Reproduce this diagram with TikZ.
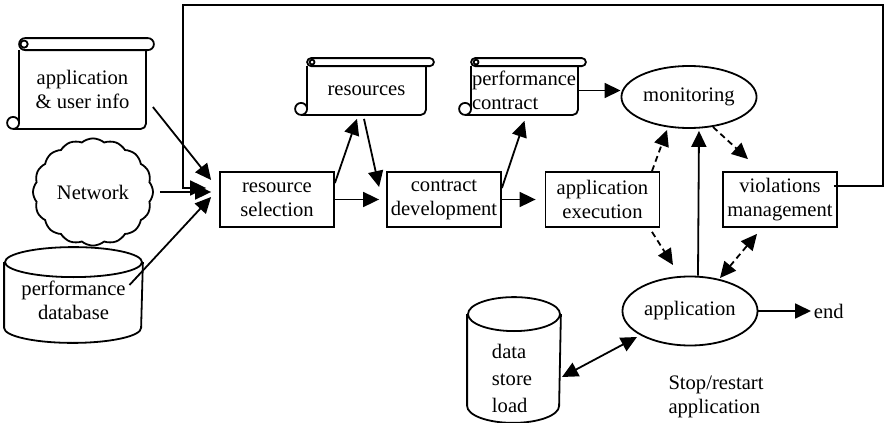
\documentclass[tikz,border=0pt]{standalone}
\usepackage{fontspec}
\setmainfont{Liberation Serif}
\usetikzlibrary{arrows.meta,shapes.geometric,shapes.symbols}

% scroll outline round a node: name, roll height, half roll height
\newcommand{\scrollframe}[3]{%
  \draw (#1.north west) -- ([yshift=3pt]#1.south west);
  \draw ([xshift=-3pt,yshift=3pt]#1.south west) circle (3pt);
  \draw[rounded corners=2.5pt] ([xshift=-3pt]#1.south west) -- (#1.south east) -- (#1.north east);
  \draw[rounded corners=#3] ([yshift=#2]#1.north west) rectangle ([xshift=4pt]#1.north east);
  \draw ([xshift=2.5pt,yshift=#3]#1.north west) circle (#3*0.6);
}
% drum outline round a node: name, half width, end radius
\newcommand{\drumframe}[3]{%
  \draw (#1.north) ellipse [x radius=#2, y radius=#3];
  \draw (#1.north west) -- (#1.south west)
    arc [start angle=180, end angle=360, x radius=#2, y radius=#3] -- (#1.north east);
}

\begin{document}
\begin{tikzpicture}[x=0.5pt,y=-0.5pt,line width=0.9pt]
\tikzstyle{every node} = [font=\fontsize{10.3}{12}\selectfont, align=center]
\tikzstyle{box} = [rectangle, draw, minimum width=57pt, minimum height=27.5pt, inner sep=1pt]
\tikzstyle{oval} = [ellipse, draw, inner sep=1pt]
\tikzstyle{arr} = [-{Triangle[length=8pt,width=7.5pt]}]
\tikzstyle{darr} = [{Triangle[length=8pt,width=7.5pt]}-{Triangle[length=8pt,width=7.5pt]}]
\tikzstyle{dashline} = [dash pattern=on 3pt off 2pt]
\useasboundingbox (0,0) rectangle (885,423);

% sources
\node[minimum width=62.5pt, minimum height=38.5pt, inner sep=0pt] (appinfo) at (82.5,89.5) {application\\\& user info};
\node[cloud, draw, cloud puffs=16, cloud puff arc=80, minimum width=60pt, minimum height=38pt, inner sep=0pt] (network) at (93,192) {Network};
\node[minimum width=68.5pt, minimum height=32pt, inner sep=0pt] (perfdb) at (73.5,295) {};
\node (perfdbtext) at (73.5,300) {performance\\database};

% main chain
\node[box] (resel) at (277,199.5) {resource\\selection};
\node[minimum width=58.5pt, minimum height=23.5pt, inner sep=0pt] (resources) at (366.5,90.5) {resources};
\node[box] (contract) at (444,199.5) {contract\\development};
\node[minimum width=52.5pt, minimum height=23.5pt, inner sep=0pt] (perfcontract) at (524.5,90.5) {};
\node[anchor=west, align=left, inner sep=0pt] (perftext) at (perfcontract.west) {performance\\contract};
\node[box] (appexec) at (602.5,199.5) {application\\execution};
\node[oval, minimum width=61pt, minimum height=31pt] (monitoring) at (689,97) {monitoring};
\node[box] (viol) at (780,199.5) {violations\\management};
\node[oval, minimum width=60.5pt, minimum height=34.5pt] (application) at (690,311) {application};
\node[anchor=west, inner sep=1pt] (finish) at (811,311) {end};
\node[minimum width=46pt, minimum height=45pt, inner sep=0pt] (datastore) at (514,360) {};
\node[align=left, font=\fontsize{10.3}{13.5}\selectfont] (datatext) at (512,378) {data\\store\\load};
\node[align=left] (stoptext) at (716,397) {Stop/restart\\application};

\scrollframe{appinfo}{6pt}{3pt}
\scrollframe{resources}{4pt}{2pt}
\scrollframe{perfcontract}{4pt}{2pt}
\drumframe{perfdb}{34.25pt}{7.5pt}
\drumframe{datastore}{23pt}{8.5pt}

% feedback loop
\coordinate (loopright) at (883,5);
\coordinate (loopleft) at (183,5);
\draw[arr] ([xshift=-2pt,yshift=6.75pt]viol.east) -| (loopright) -- (loopleft) |- ([xshift=-6.5pt,yshift=5.75pt]resel.west);

\draw[arr] ([xshift=3.5pt,yshift=-8.75pt]appinfo.east) -- ([xshift=-4pt,yshift=9.75pt]resel.west);
\draw[arr] ([xshift=3pt]network.east) -- ([xshift=-4pt]network.east -| resel.west);
\draw[arr] ([xshift=28pt,yshift=5pt]perfdb.center) -- ([xshift=-4pt,yshift=1.25pt]resel.west);
\draw[arr] ([yshift=8.25pt]resel.east) -- ([xshift=-4.75pt,yshift=-2pt]resources.south);
\draw[arr] ([xshift=-1.25pt,yshift=-2pt]resources.south) -- ([xshift=-3.5pt,yshift=6.25pt]contract.west);
\draw[arr] (resel.east) -- ([xshift=-3.5pt]contract.west);
\draw[arr] ([yshift=5.75pt]contract.east) -- ([yshift=-3pt]perfcontract.south);
\draw[arr] (contract.east) -- ([xshift=-4.5pt]contract.east -| appexec.west);
\draw[arr] (perfcontract.east) -- (perfcontract.east -| monitoring.west);
\draw[arr, dashline] ([xshift=24.75pt]appexec.north) -- ([xshift=-11pt,yshift=-16.5pt]monitoring.center);
\draw[arr, dashline] ([xshift=12pt,yshift=-15pt]monitoring.center) -- ([xshift=-16pt,yshift=6pt]viol.north);
\draw[arr] ([xshift=4pt]application.north) -- ([xshift=5pt,yshift=-1pt]monitoring.south);
\draw[arr, dashline] ([xshift=24.75pt,yshift=-2pt]appexec.south) -- ([xshift=-8.5pt,yshift=23pt]application.center);
\draw[darr, dashline] ([xshift=15pt,yshift=16.5pt]application.center) -- ([xshift=-11.5pt,yshift=-3pt]viol.south);
\draw[arr] (application.east) -- (finish.west);
\draw[darr] ([xshift=24pt,yshift=-8.5pt]datastore.center) -- ([xshift=-26.5pt,yshift=-13pt]application.center);
\end{tikzpicture}
\end{document}
